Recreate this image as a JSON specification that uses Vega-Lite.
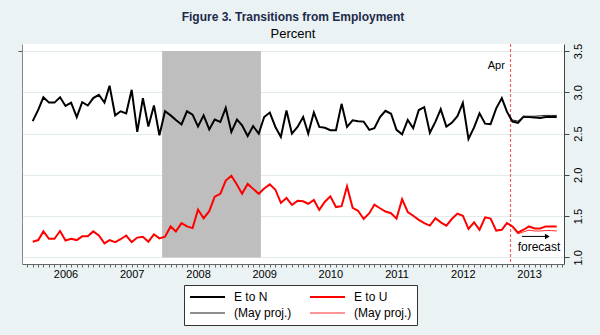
{
  "$schema": "https://vega.github.io/schema/vega-lite/v6.json",
  "width": 542,
  "height": 220,
  "autosize": {"type": "none"},
  "padding": {"left": 22, "top": 44, "right": 36, "bottom": 71},
  "background": "#EAF2F3",
  "config": {"view": {"fill": "white", "stroke": null}, "font": "Liberation Sans"},
  "title": {
    "text": "Figure 3. Transitions from Employment",
    "subtitle": "Percent",
    "fontSize": 12,
    "fontWeight": "bold",
    "color": "#1E2A4A",
    "font": "Liberation Sans",
    "subtitleFont": "Liberation Sans",
    "subtitleFontSize": 13,
    "subtitleColor": "black",
    "anchor": "middle",
    "offset": 1,
    "subtitlePadding": 4
  },
  "datasets": {
    "main": [
      {"d":"2006-01-01","EtoN":2.65,"EtoU":1.19},
      {"d":"2006-02-01","EtoN":2.79,"EtoU":1.21},
      {"d":"2006-03-01","EtoN":2.94,"EtoU":1.315},
      {"d":"2006-04-01","EtoN":2.875,"EtoU":1.225},
      {"d":"2006-05-01","EtoN":2.875,"EtoU":1.225},
      {"d":"2006-06-01","EtoN":2.94,"EtoU":1.32},
      {"d":"2006-07-01","EtoN":2.835,"EtoU":1.205},
      {"d":"2006-08-01","EtoN":2.875,"EtoU":1.225},
      {"d":"2006-09-01","EtoN":2.70,"EtoU":1.21},
      {"d":"2006-10-01","EtoN":2.88,"EtoU":1.255},
      {"d":"2006-11-01","EtoN":2.84,"EtoU":1.255},
      {"d":"2006-12-01","EtoN":2.93,"EtoU":1.315},
      {"d":"2007-01-01","EtoN":2.97,"EtoU":1.265},
      {"d":"2007-02-01","EtoN":2.875,"EtoU":1.17},
      {"d":"2007-03-01","EtoN":3.08,"EtoU":1.21},
      {"d":"2007-04-01","EtoN":2.72,"EtoU":1.185},
      {"d":"2007-05-01","EtoN":2.77,"EtoU":1.22},
      {"d":"2007-06-01","EtoN":2.745,"EtoU":1.265},
      {"d":"2007-07-01","EtoN":3.03,"EtoU":1.185},
      {"d":"2007-08-01","EtoN":2.52,"EtoU":1.24},
      {"d":"2007-09-01","EtoN":2.93,"EtoU":1.25},
      {"d":"2007-10-01","EtoN":2.585,"EtoU":1.19},
      {"d":"2007-11-01","EtoN":2.84,"EtoU":1.28},
      {"d":"2007-12-01","EtoN":2.48,"EtoU":1.23},
      {"d":"2008-01-01","EtoN":2.77,"EtoU":1.25},
      {"d":"2008-02-01","EtoN":2.72,"EtoU":1.375},
      {"d":"2008-03-01","EtoN":2.665,"EtoU":1.315},
      {"d":"2008-04-01","EtoN":2.61,"EtoU":1.415},
      {"d":"2008-05-01","EtoN":2.77,"EtoU":1.375},
      {"d":"2008-06-01","EtoN":2.73,"EtoU":1.355},
      {"d":"2008-07-01","EtoN":2.585,"EtoU":1.58},
      {"d":"2008-08-01","EtoN":2.72,"EtoU":1.475},
      {"d":"2008-09-01","EtoN":2.55,"EtoU":1.56},
      {"d":"2008-10-01","EtoN":2.67,"EtoU":1.735},
      {"d":"2008-11-01","EtoN":2.64,"EtoU":1.77},
      {"d":"2008-12-01","EtoN":2.81,"EtoU":1.93},
      {"d":"2009-01-01","EtoN":2.52,"EtoU":1.99},
      {"d":"2009-02-01","EtoN":2.67,"EtoU":1.88},
      {"d":"2009-03-01","EtoN":2.60,"EtoU":1.77},
      {"d":"2009-04-01","EtoN":2.47,"EtoU":1.89},
      {"d":"2009-05-01","EtoN":2.59,"EtoU":1.83},
      {"d":"2009-06-01","EtoN":2.50,"EtoU":1.77},
      {"d":"2009-07-01","EtoN":2.70,"EtoU":1.835},
      {"d":"2009-08-01","EtoN":2.755,"EtoU":1.885},
      {"d":"2009-09-01","EtoN":2.58,"EtoU":1.82},
      {"d":"2009-10-01","EtoN":2.46,"EtoU":1.66},
      {"d":"2009-11-01","EtoN":2.78,"EtoU":1.72},
      {"d":"2009-12-01","EtoN":2.50,"EtoU":1.635},
      {"d":"2010-01-01","EtoN":2.58,"EtoU":1.685},
      {"d":"2010-02-01","EtoN":2.70,"EtoU":1.68},
      {"d":"2010-03-01","EtoN":2.50,"EtoU":1.65},
      {"d":"2010-04-01","EtoN":2.755,"EtoU":1.695},
      {"d":"2010-05-01","EtoN":2.58,"EtoU":1.575},
      {"d":"2010-06-01","EtoN":2.57,"EtoU":1.675},
      {"d":"2010-07-01","EtoN":2.54,"EtoU":1.74},
      {"d":"2010-08-01","EtoN":2.54,"EtoU":1.61},
      {"d":"2010-09-01","EtoN":2.86,"EtoU":1.62},
      {"d":"2010-10-01","EtoN":2.58,"EtoU":1.86},
      {"d":"2010-11-01","EtoN":2.66,"EtoU":1.60},
      {"d":"2010-12-01","EtoN":2.65,"EtoU":1.565},
      {"d":"2011-01-01","EtoN":2.645,"EtoU":1.465},
      {"d":"2011-02-01","EtoN":2.545,"EtoU":1.535},
      {"d":"2011-03-01","EtoN":2.565,"EtoU":1.64},
      {"d":"2011-04-01","EtoN":2.70,"EtoU":1.595},
      {"d":"2011-05-01","EtoN":2.775,"EtoU":1.555},
      {"d":"2011-06-01","EtoN":2.74,"EtoU":1.535},
      {"d":"2011-07-01","EtoN":2.545,"EtoU":1.47},
      {"d":"2011-08-01","EtoN":2.49,"EtoU":1.705},
      {"d":"2011-09-01","EtoN":2.665,"EtoU":1.55},
      {"d":"2011-10-01","EtoN":2.565,"EtoU":1.505},
      {"d":"2011-11-01","EtoN":2.785,"EtoU":1.455},
      {"d":"2011-12-01","EtoN":2.82,"EtoU":1.415},
      {"d":"2012-01-01","EtoN":2.51,"EtoU":1.385},
      {"d":"2012-02-01","EtoN":2.645,"EtoU":1.475},
      {"d":"2012-03-01","EtoN":2.795,"EtoU":1.425},
      {"d":"2012-04-01","EtoN":2.585,"EtoU":1.385},
      {"d":"2012-05-01","EtoN":2.63,"EtoU":1.465},
      {"d":"2012-06-01","EtoN":2.71,"EtoU":1.53},
      {"d":"2012-07-01","EtoN":2.87,"EtoU":1.505},
      {"d":"2012-08-01","EtoN":2.435,"EtoU":1.345},
      {"d":"2012-09-01","EtoN":2.575,"EtoU":1.425},
      {"d":"2012-10-01","EtoN":2.745,"EtoU":1.335},
      {"d":"2012-11-01","EtoN":2.62,"EtoU":1.485},
      {"d":"2012-12-01","EtoN":2.615,"EtoU":1.47},
      {"d":"2013-01-01","EtoN":2.805,"EtoU":1.325},
      {"d":"2013-02-01","EtoN":2.93,"EtoU":1.335},
      {"d":"2013-03-01","EtoN":2.765,"EtoU":1.415},
      {"d":"2013-04-01","EtoN":2.645,"EtoU":1.375,"MayN":2.665,"MayU":1.36},
      {"d":"2013-05-01","EtoN":2.63,"EtoU":1.30,"MayN":2.65,"MayU":1.285},
      {"d":"2013-06-01","EtoN":2.705,"EtoU":1.335,"MayN":2.705,"MayU":1.31},
      {"d":"2013-07-01","EtoN":2.70,"EtoU":1.375,"MayN":2.71,"MayU":1.33},
      {"d":"2013-08-01","EtoN":2.695,"EtoU":1.35,"MayN":2.71,"MayU":1.32},
      {"d":"2013-09-01","EtoN":2.69,"EtoU":1.35,"MayN":2.715,"MayU":1.32},
      {"d":"2013-10-01","EtoN":2.70,"EtoU":1.375,"MayN":2.72,"MayU":1.325},
      {"d":"2013-11-01","EtoN":2.70,"EtoU":1.375,"MayN":2.72,"MayU":1.325},
      {"d":"2013-12-01","EtoN":2.70,"EtoU":1.375,"MayN":2.72,"MayU":1.32}
    ]
  },
  "encoding": {
    "x": {
      "field": "d",
      "type": "temporal",
      "title": null,
      "scale": {
        "type": "utc",
        "domain": [
          {"year": 2005, "month": 11, "date": 3, "utc": true},
          {"year": 2014, "month": 1, "date": 10, "utc": true}
        ]
      },
      "axis": {
        "orient": "bottom",
        "title": null,
        "tickCount": {"interval": "month", "step": 1},
        "labelExpr": "utcmonth(datum.value) == 6 ? utcFormat(datum.value, '%Y') : ''",
        "tickSize": 3,
        "labelPadding": 1,
        "labelFontSize": 11,
        "labelColor": "black",
        "domainColor": "#666666",
        "tickColor": "#666666",
        "grid": false,
        "labelOverlap": false,
        "labelFlush": false,
        "labelBound": false
      }
    }
  },
  "layer": [
    {
      "layer": [
        {
          "data": {"values": [{"d": "2007-12-16", "d2": "2009-06-13", "lo": 1.0, "hi": 3.5}]},
          "mark": {"type": "rect", "color": "#BEBEBE"},
          "encoding": {
            "x2": {"field": "d2"},
            "y": {
              "field": "lo",
              "type": "quantitative",
              "scale": {"domain": [0.92, 3.585], "nice": false, "zero": false},
              "axis": {
                "orient": "left",
                "title": null,
                "labels": false,
                "values": [3.5],
                "tickSize": 4,
                "tickColor": "#555555",
                "domainColor": "#888888",
                "grid": false
              }
            },
            "y2": {"field": "hi"}
          }
        },
        {
          "data": {"values": [{"d": "2013-03-21"}]},
          "mark": {"type": "rule", "color": "#F26262", "strokeDash": [3, 2], "strokeWidth": 1.2},
          "encoding": {}
        }
      ]
    },
    {
      "encoding": {
        "y": {
          "field": "v",
          "type": "quantitative",
          "scale": {"domain": [0.92, 3.585], "nice": false, "zero": false},
          "axis": {
            "orient": "right",
            "title": null,
            "values": [1, 1.5, 2, 2.5, 3, 3.5],
            "format": ".1f",
            "labelAngle": 270,
            "labelAlign": "center",
            "labelBaseline": "top",
            "labelPadding": 3,
            "labelFontSize": 11,
            "labelColor": "black",
            "tickSize": 5,
            "tickColor": "#444444",
            "domainColor": "#444444",
            "grid": true,
            "gridColor": "#E2EBEE",
            "labelFlush": false,
            "labelBound": false
          }
        }
      },
      "layer": [
        {
          "data": {"name": "main"},
          "transform": [{"fold": ["EtoN", "EtoU", "MayN", "MayU"], "as": ["s", "v"]}],
          "mark": {"type": "line"},
          "encoding": {
            "color": {
              "field": "s",
              "type": "nominal",
              "scale": {"domain": ["EtoN", "EtoU", "MayN", "MayU"], "range": ["#000000", "#FF0000", "#1A1A1A", "#FF2A2A"]},
              "legend": {
                "orient": "none", "legendX": 162, "legendY": 241, "columns": 2, "direction": "horizontal", "title": null,
                "symbolType": "stroke", "symbolSize": 1225, "clipHeight": 14, "rowPadding": 2,
                "columnPadding": 17, "padding": 5, "labelFontSize": 12, "labelOffset": 8,
                "labelColor": "black", "strokeColor": "#333333", "fillColor": "white",
                "labelExpr": "datum.value == 'EtoN' ? 'E to N' : datum.value == 'EtoU' ? 'E to U' : '(May proj.)'"
              }
            },
            "strokeWidth": {
              "field": "s",
              "type": "nominal",
              "scale": {"type": "ordinal", "domain": ["EtoN", "EtoU", "MayN", "MayU"], "range": [2, 2, 1, 1]},
              "legend": {
                "orient": "none", "legendX": 162, "legendY": 241, "columns": 2, "direction": "horizontal", "title": null,
                "symbolType": "stroke", "symbolSize": 1225, "clipHeight": 14, "rowPadding": 2,
                "columnPadding": 17, "padding": 5, "labelFontSize": 12, "labelOffset": 8,
                "labelColor": "black", "strokeColor": "#333333", "fillColor": "white",
                "labelExpr": "datum.value == 'EtoN' ? 'E to N' : datum.value == 'EtoU' ? 'E to U' : '(May proj.)'"
              }
            }
          }
        },
        {
          "data": {"values": [{"d": "2013-05-23", "d2": "2013-10-08", "v": 1.254}]},
          "mark": {"type": "rule", "color": "black", "strokeWidth": 1},
          "encoding": {"x2": {"field": "d2"}}
        },
        {
          "data": {"values": [{"d": "2013-10-10", "v": 1.254}]},
          "mark": {"type": "point", "shape": "triangle-right", "filled": true, "color": "black", "size": 30, "opacity": 1},
          "encoding": {}
        },
        {
          "data": {"values": [{"d": "2013-08-25", "v": 1.13, "t": "forecast"}]},
          "mark": {"type": "text", "align": "center", "baseline": "middle", "fontSize": 12, "color": "black"},
          "encoding": {"text": {"field": "t"}}
        },
        {
          "data": {"values": [{"d": "2013-02-18", "v": 3.32, "t": "Apr"}]},
          "mark": {"type": "text", "align": "right", "baseline": "middle", "fontSize": 11, "color": "black"},
          "encoding": {"text": {"field": "t"}}
        }
      ]
    }
  ],
  "resolve": {"axis": {"y": "independent"}}
}
